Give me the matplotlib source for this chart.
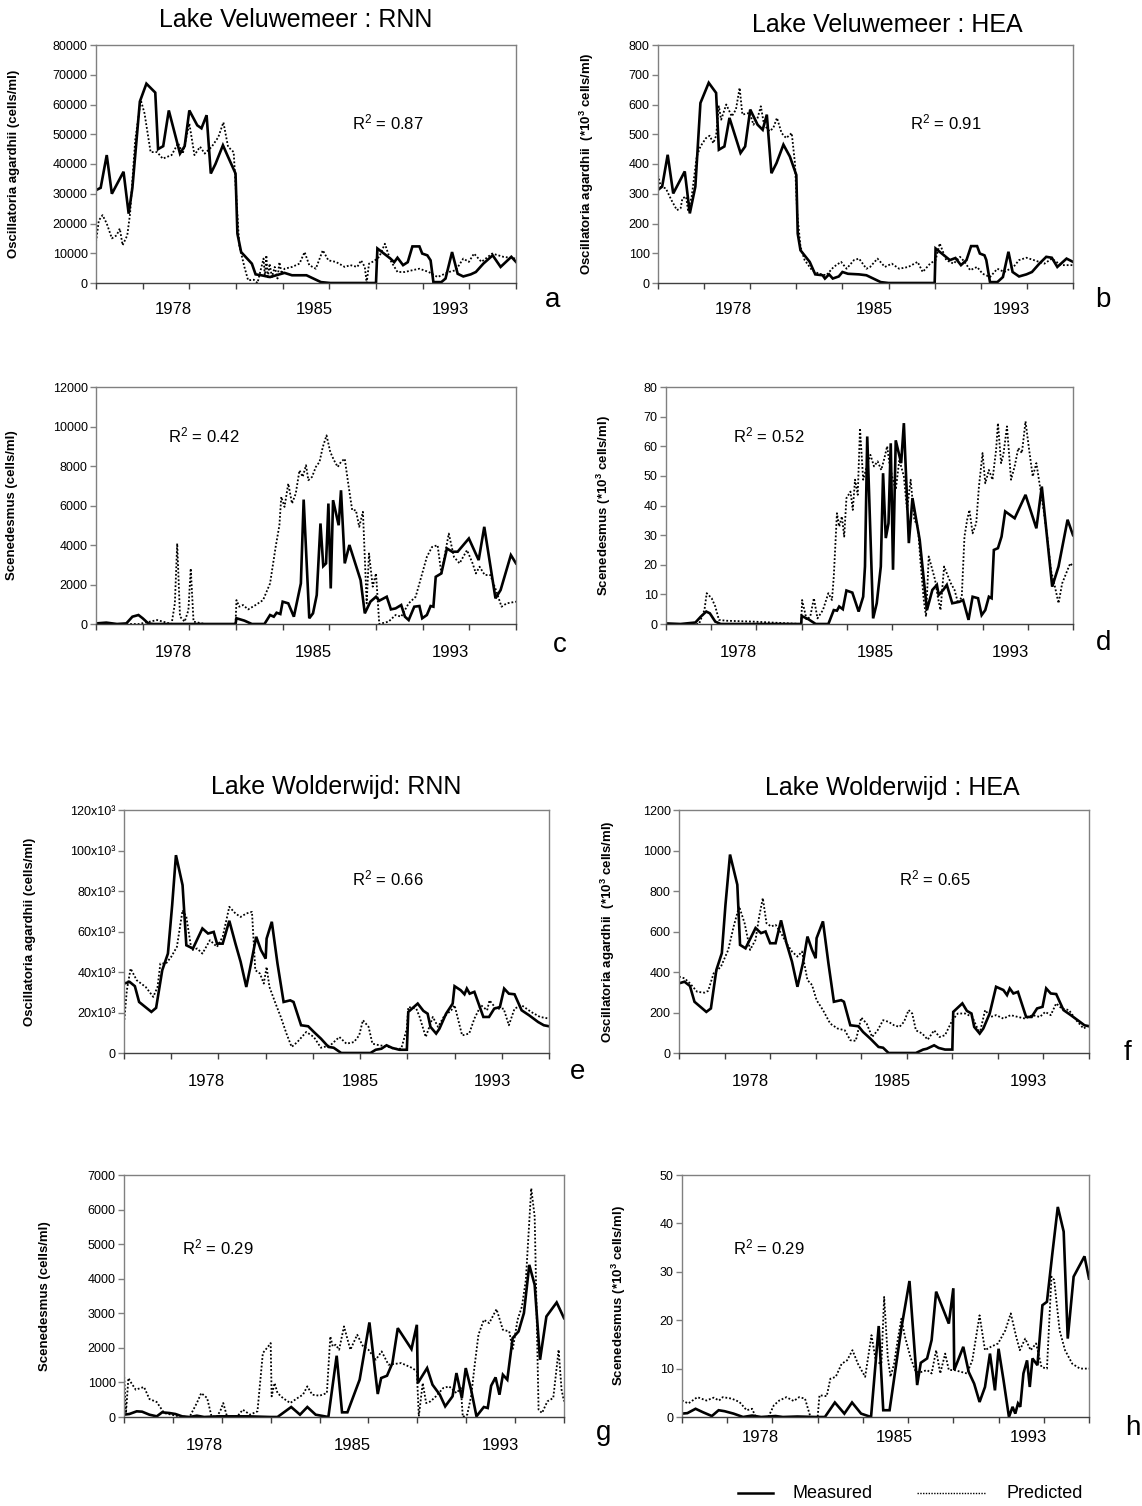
import matplotlib
matplotlib.use("Agg")
import matplotlib.pyplot as plt
from matplotlib.lines import Line2D

plt.rcParams["font.family"] = ["Liberation Sans", "DejaVu Sans"]
plt.rcParams["mathtext.fontset"] = "custom"
plt.rcParams["mathtext.rm"] = "Liberation Sans"
plt.rcParams["mathtext.it"] = "Liberation Sans:italic"
plt.rcParams["mathtext.bf"] = "Liberation Sans:bold"

W, H = 1142, 1506

# x is in axis category blocks (9 blocks, labelled 1978 / 1985 / 1993)
YEARS = ["1978", "1985", "1993"]

# ---- Lake Veluwemeer, Oscillatoria, RNN (cells/ml)
a_meas = [(0, 31200), (0.10, 32000), (0.23, 43000), (0.34, 30000), (0.59, 37400), (0.70, 23300),
          (0.78, 32000), (0.94, 61000), (1.08, 67000), (1.27, 64000), (1.33, 45000), (1.44, 46000),
          (1.56, 58000), (1.80, 43500), (1.90, 46000), (2.0, 58000), (2.17, 53000), (2.26, 52000),
          (2.37, 56400), (2.46, 36800), (2.56, 40000), (2.72, 46300), (2.83, 42400), (2.99, 36800),
          (3.03, 16600), (3.11, 10400), (3.34, 6500), (3.42, 2900), (3.54, 2600), (3.73, 2000),
          (4.04, 3400), (4.2, 2600), (4.51, 2600), (4.82, 300), (5.02, 0), (6.0, 0), (6.03, 11600),
          (6.31, 8200), (6.39, 7000), (6.46, 8500), (6.58, 6000), (6.68, 7000), (6.78, 12300),
          (6.93, 12300), (6.99, 9900), (7.10, 9300), (7.17, 7600), (7.23, 300), (7.40, 300),
          (7.49, 1500), (7.63, 10400), (7.75, 3100), (7.87, 2200), (8.03, 2900), (8.14, 3700),
          (8.3, 6500), (8.5, 9300), (8.67, 5400), (8.9, 8800), (9.0, 7100)]
a_pred = [(0, 13800), (0.06, 21000), (0.14, 22800), (0.23, 20000), (0.34, 15000), (0.44, 16000),
          (0.51, 18300), (0.57, 12700), (0.67, 16000), (0.73, 23300), (0.84, 48000), (0.96, 61500),
          (1.04, 57000), (1.17, 44000), (1.31, 44000), (1.43, 41800), (1.62, 43000), (1.76, 47000),
          (1.86, 43500), (2.0, 53600), (2.11, 43000), (2.23, 45800), (2.33, 43500), (2.48, 45800),
          (2.62, 49000), (2.73, 54000), (2.83, 45800), (2.95, 44000), (3.01, 28000), (3.07, 12700),
          (3.18, 5400), (3.26, 900), (3.38, 1100), (3.46, 0), (3.59, 8200), (3.62, 2000),
          (3.65, 9300), (3.68, 1500), (3.72, 6500), (3.77, 2000), (3.83, 5400), (3.89, 1500),
          (3.93, 7000), (3.98, 3100), (4.04, 4800), (4.2, 5400), (4.36, 6500), (4.47, 10400),
          (4.57, 6000), (4.71, 4800), (4.86, 11000), (4.98, 7600), (5.14, 7100), (5.33, 5400),
          (5.45, 6000), (5.6, 5400), (5.68, 7600), (5.76, 5400), (5.8, 0), (5.85, 6500),
          (5.96, 7400), (6.07, 8800), (6.19, 13200), (6.31, 7600), (6.46, 3700), (6.62, 3700),
          (6.78, 4300), (6.93, 4800), (7.13, 3700), (7.32, 2000), (7.56, 3700), (7.71, 4300),
          (7.87, 8200), (7.99, 7100), (8.1, 9900), (8.26, 7100), (8.49, 9900), (8.73, 8800),
          (9.0, 8200)]

# ---- Lake Veluwemeer, Oscillatoria, HEA (*10^3 cells/ml)
b_meas = [(0, 313), (0.09, 324), (0.21, 431), (0.33, 301), (0.58, 375), (0.69, 234), (0.81, 324),
          (0.92, 605), (1.1, 673), (1.26, 639), (1.32, 448), (1.44, 459), (1.55, 555), (1.79, 437),
          (1.89, 459), (2.0, 583), (2.16, 532), (2.27, 515), (2.36, 566), (2.46, 369), (2.57, 403),
          (2.72, 465), (2.86, 425), (3.0, 363), (3.03, 166), (3.09, 110), (3.29, 71), (3.41, 29),
          (3.57, 26), (3.62, 15), (3.71, 29), (3.79, 15), (3.92, 22), (4.0, 37), (4.12, 31),
          (4.36, 29), (4.52, 26), (4.83, 3), (5.0, 0), (6.0, 0), (6.02, 116), (6.33, 77), (6.45, 84),
          (6.57, 60), (6.69, 77), (6.79, 124), (6.92, 124), (6.98, 99), (7.08, 93), (7.12, 77),
          (7.2, 3), (7.36, 3), (7.48, 20), (7.6, 105), (7.69, 37), (7.83, 22), (7.99, 29),
          (8.11, 37), (8.27, 65), (8.42, 88), (8.54, 85), (8.66, 54), (8.86, 82), (9.0, 71)]
b_pred = [(0, 363), (0.06, 324), (0.17, 318), (0.29, 279), (0.41, 245), (0.49, 251), (0.53, 285),
          (0.61, 290), (0.65, 245), (0.73, 290), (0.84, 425), (0.92, 459), (1.04, 487), (1.12, 495),
          (1.2, 470), (1.26, 495), (1.32, 594), (1.37, 549), (1.48, 600), (1.6, 560), (1.69, 583),
          (1.77, 656), (1.83, 566), (1.99, 572), (2.07, 532), (2.16, 555), (2.23, 594), (2.3, 532),
          (2.42, 510), (2.5, 521), (2.58, 555), (2.68, 504), (2.78, 487), (2.9, 504), (2.97, 403),
          (3.02, 234), (3.09, 122), (3.18, 77), (3.34, 43), (3.49, 31), (3.65, 26), (3.81, 54),
          (3.97, 71), (4.09, 48), (4.25, 77), (4.36, 82), (4.52, 48), (4.6, 54), (4.76, 82),
          (4.92, 54), (5.07, 65), (5.23, 48), (5.43, 54), (5.63, 71), (5.74, 37), (5.9, 65),
          (6.02, 77), (6.11, 133), (6.25, 77), (6.41, 65), (6.55, 88), (6.65, 71), (6.77, 43),
          (6.92, 54), (7.04, 31), (7.2, 20), (7.36, 48), (7.51, 37), (7.71, 54), (7.83, 77),
          (7.99, 85), (8.15, 77), (8.38, 65), (8.54, 82), (8.74, 60), (9.0, 60)]

# ---- Lake Veluwemeer, Scenedesmus, RNN (cells/ml)
c_meas = [(0, 30), (0.22, 70), (0.45, 0), (0.65, 30), (0.78, 370), (0.91, 455), (1.0, 290),
          (1.12, 30), (1.23, 0), (2.99, 0), (3.01, 290), (3.18, 170), (3.34, 0), (3.61, 0),
          (3.73, 455), (3.81, 370), (3.87, 570), (3.95, 505), (4.0, 1130), (4.12, 1045), (4.24, 370),
          (4.39, 2055), (4.45, 6300), (4.57, 290), (4.65, 540), (4.73, 1465), (4.81, 5090),
          (4.87, 2930), (4.93, 3070), (4.98, 6100), (5.03, 1800), (5.08, 6270), (5.2, 5000),
          (5.25, 6770), (5.33, 3070), (5.43, 4000), (5.67, 2220), (5.76, 540), (5.88, 1130),
          (6.0, 1380), (6.07, 1180), (6.23, 1380), (6.32, 740), (6.42, 790), (6.54, 960), (6.62, 370),
          (6.7, 200), (6.82, 876), (6.93, 910), (6.99, 290), (7.09, 455), (7.17, 910), (7.23, 876),
          (7.28, 2390), (7.4, 2560), (7.52, 3825), (7.63, 3660), (7.75, 3660), (7.99, 4330),
          (8.2, 3235), (8.32, 4920), (8.56, 1300), (8.67, 1720), (8.89, 3490), (9.0, 3070)]
c_pred = [(0, 0), (0.92, 0), (1.31, 200), (1.62, 0), (1.69, 1045), (1.74, 4080), (1.8, 370),
          (1.9, 120), (1.98, 700), (2.03, 2810), (2.09, 120), (2.33, 0), (2.99, 0), (3.01, 1210),
          (3.07, 876), (3.15, 960), (3.26, 740), (3.42, 960), (3.58, 1210), (3.73, 2055), (3.85, 3910),
          (3.93, 5000), (3.97, 6440), (4.04, 5930), (4.12, 7110), (4.2, 6100), (4.28, 6600),
          (4.36, 7780), (4.43, 7450), (4.5, 8040), (4.55, 7280), (4.63, 7450), (4.71, 7950),
          (4.79, 8210), (4.86, 8960), (4.94, 9550), (5.02, 8710), (5.1, 8290), (5.18, 7950),
          (5.25, 8210), (5.33, 8370), (5.41, 7030), (5.49, 5760), (5.57, 5760), (5.64, 4920),
          (5.72, 5680), (5.8, 1045), (5.85, 3570), (5.93, 1890), (6.0, 2560), (6.07, 0), (6.27, 120),
          (6.42, 455), (6.54, 370), (6.7, 1045), (6.85, 1380), (6.97, 2390), (7.09, 3400),
          (7.2, 3900), (7.32, 3990), (7.4, 2560), (7.48, 3570), (7.56, 4580), (7.67, 3400),
          (7.79, 3070), (7.95, 3740), (8.07, 3070), (8.14, 2560), (8.22, 2900), (8.33, 2480),
          (8.45, 2480), (8.57, 1720), (8.69, 876), (8.8, 1045), (9.0, 1130)]

# ---- Lake Veluwemeer, Scenedesmus, HEA (*10^3 cells/ml)
d_meas = [(0, 0.2), (0.32, 0), (0.65, 0.5), (0.77, 2.5), (0.89, 4.2), (0.97, 3.6), (1.09, 0.8),
          (1.21, 0), (2.99, 0), (3.0, 2.7), (3.15, 1.6), (3.31, 0), (3.59, 0), (3.71, 4.7),
          (3.78, 4.5), (3.83, 5.9), (3.91, 5.0), (3.99, 11.3), (4.12, 10.6), (4.26, 4.2), (4.36, 9.2),
          (4.4, 19.4), (4.45, 63.3), (4.58, 1.9), (4.66, 7.0), (4.75, 19.4), (4.8, 50.9), (4.86, 29.0),
          (4.92, 34.0), (4.97, 61.0), (5.02, 18.3), (5.08, 62.0), (5.2, 54.3), (5.26, 67.8),
          (5.37, 27.3), (5.45, 42.5), (5.61, 28.4), (5.77, 4.7), (5.89, 11.5), (5.99, 13.2),
          (6.03, 9.8), (6.13, 11.5), (6.21, 13.2), (6.33, 7.0), (6.49, 7.5), (6.57, 8.1), (6.69, 1.4),
          (6.78, 9.2), (6.9, 8.7), (6.98, 3.0), (7.06, 4.7), (7.14, 9.2), (7.2, 8.7), (7.25, 25.0),
          (7.34, 25.6), (7.42, 29.5), (7.5, 38.0), (7.71, 35.7), (7.95, 43.6), (8.19, 32.3),
          (8.31, 46.4), (8.54, 12.6), (8.68, 19.4), (8.88, 35.2), (9.0, 30.0)]
d_pred = [(0, 0), (0.73, 0), (0.85, 4.7), (0.9, 10.4), (1.01, 8.7), (1.09, 5.9), (1.17, 1.4),
          (1.33, 1.1), (1.94, 0.8), (2.99, 0), (3.01, 8.1), (3.11, 1.4), (3.19, 2.5), (3.27, 8.7),
          (3.35, 1.9), (3.47, 4.7), (3.59, 10.4), (3.67, 8.1), (3.71, 16.0), (3.78, 37.4), (3.83, 32.9),
          (3.89, 36.3), (3.94, 29.5), (3.99, 42.5), (4.08, 44.7), (4.13, 38.5), (4.18, 48.7),
          (4.24, 43.6), (4.29, 66.1), (4.36, 48.7), (4.44, 53.2), (4.52, 57.1), (4.6, 53.2),
          (4.68, 54.9), (4.76, 52.0), (4.83, 56.0), (4.89, 60.0), (4.94, 54.3), (5.0, 49.8),
          (5.08, 45.3), (5.16, 55.4), (5.26, 49.8), (5.33, 38.5), (5.41, 48.7), (5.49, 35.2),
          (5.57, 32.9), (5.63, 20.5), (5.7, 8.1), (5.75, 2.5), (5.81, 22.8), (5.89, 18.3),
          (5.95, 14.9), (6.01, 9.2), (6.07, 4.7), (6.15, 19.4), (6.21, 17.1), (6.3, 13.7),
          (6.38, 11.5), (6.46, 7.0), (6.54, 9.2), (6.6, 29.5), (6.66, 35.2), (6.71, 38.5),
          (6.78, 30.6), (6.86, 34.0), (6.92, 46.4), (7.0, 57.7), (7.06, 47.5), (7.14, 52.0),
          (7.22, 48.7), (7.3, 58.8), (7.34, 67.8), (7.41, 54.3), (7.46, 57.1), (7.54, 66.7),
          (7.63, 48.7), (7.71, 53.2), (7.79, 59.4), (7.87, 57.7), (7.95, 68.4), (8.03, 58.8),
          (8.11, 49.8), (8.19, 54.3), (8.27, 46.4), (8.35, 38.5), (8.43, 29.5), (8.51, 18.3),
          (8.6, 12.6), (8.68, 7.0), (8.76, 13.7), (8.88, 18.3), (8.94, 20.5), (9.0, 19.4)]

# ---- Lake Wolderwijd, Oscillatoria, RNN (*10^3 cells/ml on the axis)
e_meas = [(0, 34.3), (0.12, 35.1), (0.23, 33.0), (0.32, 25.2), (0.58, 20.3), (0.68, 22.3),
          (0.81, 40.9), (0.93, 49.1), (1.02, 73.0), (1.1, 97.7), (1.24, 82.9), (1.32, 53.2),
          (1.46, 51.6), (1.66, 61.5), (1.78, 59.0), (1.9, 59.8), (1.97, 54.0), (2.09, 54.0),
          (2.23, 65.3), (2.36, 54.0), (2.47, 45.0), (2.59, 32.6), (2.69, 44.2), (2.8, 57.4),
          (2.9, 50.8), (3.0, 46.6), (3.02, 56.5), (3.13, 64.8), (3.25, 44.2), (3.38, 25.2),
          (3.52, 26.0), (3.59, 25.2), (3.75, 13.7), (3.9, 13.2), (4.02, 10.4), (4.17, 7.1),
          (4.33, 3.0), (4.44, 2.6), (4.6, 0), (5.22, 0), (5.33, 1.6), (5.45, 2.1), (5.56, 3.8),
          (5.68, 2.5), (5.83, 1.6), (5.99, 1.6), (6.02, 20.3), (6.22, 24.4), (6.34, 20.8),
          (6.43, 19.4), (6.49, 12.9), (6.61, 9.6), (6.68, 12.0), (6.82, 19.4), (6.96, 24.4),
          (7.0, 33.0), (7.13, 31.0), (7.21, 29.0), (7.26, 31.8), (7.32, 29.3), (7.42, 30.2),
          (7.61, 17.8), (7.73, 17.8), (7.84, 21.9), (7.96, 22.7), (8.05, 31.8), (8.15, 29.3),
          (8.27, 29.0), (8.42, 21.1), (8.58, 18.6), (8.77, 15.3), (8.89, 13.7), (9.0, 13.2)]
e_pred = [(0, 14.5), (0.06, 31.0), (0.14, 41.7), (0.27, 35.9), (0.46, 32.6), (0.62, 27.7),
          (0.71, 32.6), (0.77, 44.2), (0.89, 44.2), (1.0, 47.5), (1.12, 52.4), (1.24, 70.5),
          (1.32, 67.2), (1.43, 50.8), (1.55, 51.6), (1.66, 49.1), (1.82, 55.7), (1.97, 52.4),
          (2.09, 57.4), (2.23, 72.2), (2.36, 68.9), (2.47, 67.2), (2.59, 68.9), (2.71, 69.7),
          (2.78, 40.9), (2.88, 39.2), (2.96, 34.3), (3.02, 42.5), (3.08, 32.6), (3.21, 24.4),
          (3.32, 17.8), (3.44, 9.6), (3.55, 3.0), (3.67, 5.4), (3.86, 10.4), (4.02, 7.9),
          (4.17, 2.6), (4.37, 3.8), (4.56, 7.9), (4.71, 4.6), (4.87, 5.4), (4.98, 8.7), (5.06, 16.2),
          (5.18, 12.9), (5.26, 4.6), (5.41, 3.8), (5.56, 3.3), (5.72, 2.1), (5.87, 2.1), (5.99, 12.0),
          (6.02, 22.7), (6.19, 21.9), (6.26, 17.8), (6.39, 7.9), (6.54, 17.8), (6.65, 12.9),
          (6.77, 17.8), (6.93, 21.1), (7.0, 23.6), (7.16, 8.7), (7.31, 9.6), (7.42, 17.0),
          (7.56, 23.6), (7.69, 21.1), (7.74, 26.0), (7.88, 21.9), (8.04, 21.9), (8.15, 13.7),
          (8.27, 21.9), (8.42, 23.6), (8.62, 20.3), (8.81, 17.8), (9.0, 17.0)]

# ---- Lake Wolderwijd, Oscillatoria, HEA (*10^3 cells/ml)
f_meas = [(0, 344), (0.12, 352), (0.24, 331), (0.34, 253), (0.6, 203), (0.7, 220), (0.82, 410),
          (0.94, 493), (1.02, 732), (1.12, 980), (1.28, 831), (1.34, 534), (1.46, 517), (1.68, 617),
          (1.8, 592), (1.9, 600), (2.0, 542), (2.12, 542), (2.24, 655), (2.36, 542), (2.48, 451),
          (2.6, 327), (2.72, 443), (2.82, 575), (2.92, 509), (3.0, 468), (3.02, 567), (3.16, 650),
          (3.28, 443), (3.4, 253), (3.56, 261), (3.62, 253), (3.76, 137), (3.94, 132), (4.04, 104),
          (4.2, 71), (4.38, 30), (4.48, 26), (4.6, 0), (5.2, 0), (5.36, 17), (5.44, 21), (5.6, 38),
          (5.7, 25), (5.84, 17), (6.0, 17), (6.02, 203), (6.22, 245), (6.32, 208), (6.42, 195),
          (6.48, 129), (6.6, 96), (6.68, 121), (6.82, 195), (6.96, 327), (7.12, 311), (7.2, 286),
          (7.26, 319), (7.34, 294), (7.44, 302), (7.62, 178), (7.74, 178), (7.86, 220), (7.98, 228),
          (8.06, 319), (8.16, 294), (8.28, 291), (8.44, 212), (8.6, 187), (8.8, 154), (8.9, 137),
          (9.0, 132)]
f_pred = [(0, 377), (0.12, 369), (0.24, 344), (0.4, 302), (0.56, 298), (0.64, 307), (0.76, 393),
          (0.92, 426), (1.08, 509), (1.2, 625), (1.32, 724), (1.44, 641), (1.56, 509), (1.68, 559),
          (1.76, 674), (1.84, 765), (1.92, 641), (2.02, 625), (2.12, 633), (2.24, 592), (2.36, 542),
          (2.48, 501), (2.6, 476), (2.7, 501), (2.82, 360), (2.92, 336), (3.02, 261), (3.16, 212),
          (3.32, 145), (3.48, 121), (3.64, 112), (3.76, 63), (3.88, 60), (4.0, 175), (4.12, 145),
          (4.24, 79), (4.36, 112), (4.48, 162), (4.6, 154), (4.72, 137), (4.84, 129), (4.94, 154),
          (5.04, 212), (5.12, 195), (5.2, 112), (5.34, 96), (5.46, 66), (5.6, 112), (5.72, 79),
          (5.84, 88), (6.0, 162), (6.12, 195), (6.28, 195), (6.44, 178), (6.6, 96), (6.72, 212),
          (6.84, 178), (6.96, 187), (7.12, 170), (7.28, 187), (7.44, 178), (7.6, 170), (7.76, 187),
          (7.92, 178), (8.04, 203), (8.16, 187), (8.28, 245), (8.4, 220), (8.56, 212), (8.72, 162),
          (8.88, 121), (9.0, 137)]

# ---- Lake Wolderwijd, Scenedesmus, RNN (cells/ml)
g_meas = [(0, 67), (0.11, 87), (0.26, 164), (0.37, 154), (0.52, 67), (0.67, 19), (0.78, 135),
          (0.93, 115), (1.05, 87), (1.19, 19), (1.34, 0), (1.49, 38), (1.64, 0), (1.94, 19),
          (2.24, 19), (2.54, 19), (2.99, 0), (3.14, 0), (3.42, 289), (3.6, 67), (3.75, 289),
          (3.92, 67), (4.18, 0), (4.35, 1772), (4.46, 135), (4.57, 135), (4.82, 1080), (5.02, 2735),
          (5.19, 665), (5.26, 1127), (5.38, 1194), (5.49, 1560), (5.6, 2570), (5.88, 1965),
          (5.99, 2667), (6.01, 982), (6.2, 1415), (6.31, 934), (6.46, 645), (6.57, 308), (6.72, 597),
          (6.8, 1271), (6.91, 549), (6.99, 1415), (7.1, 790), (7.21, 19), (7.29, 164), (7.36, 289),
          (7.44, 260), (7.51, 905), (7.6, 1146), (7.68, 645), (7.75, 1223), (7.84, 1080),
          (7.95, 2282), (8.07, 2475), (8.18, 3005), (8.29, 4400), (8.4, 3823), (8.51, 1656),
          (8.64, 2908), (8.85, 3313), (9.0, 2860)]
g_pred = [(0, 1271), (0.04, 115), (0.09, 1127), (0.15, 982), (0.24, 790), (0.34, 838), (0.41, 867),
          (0.52, 520), (0.67, 433), (0.82, 115), (0.97, 67), (1.12, 19), (1.34, 0), (1.49, 404),
          (1.58, 693), (1.7, 549), (1.79, 19), (1.9, 0), (1.98, 212), (2.03, 404), (2.11, 0),
          (2.32, 19), (2.43, 212), (2.58, 67), (2.73, 164), (2.84, 1849), (2.95, 2042), (3.0, 2138),
          (3.02, 597), (3.08, 982), (3.14, 693), (3.25, 549), (3.4, 404), (3.55, 549), (3.66, 645),
          (3.75, 886), (3.85, 645), (4.0, 616), (4.15, 693), (4.22, 2330), (4.27, 2042), (4.33, 2090),
          (4.4, 1945), (4.5, 2620), (4.63, 1945), (4.77, 2379), (4.89, 2042), (5.0, 1945),
          (5.15, 1656), (5.27, 1897), (5.41, 1512), (5.67, 1560), (5.9, 1415), (5.99, 1319),
          (6.03, 19), (6.11, 982), (6.18, 404), (6.27, 452), (6.38, 597), (6.53, 838), (6.65, 886),
          (6.8, 693), (6.89, 838), (6.93, 0), (7.02, 67), (7.1, 597), (7.17, 1464), (7.25, 2379),
          (7.36, 2812), (7.47, 2716), (7.62, 3120), (7.75, 2523), (7.88, 2475), (7.95, 1945),
          (8.05, 2812), (8.14, 3197), (8.22, 3968), (8.33, 6616), (8.4, 5797), (8.48, 212),
          (8.55, 115), (8.66, 452), (8.78, 549), (8.83, 1175), (8.89, 1945), (8.95, 790),
          (9.0, 452)]

# ---- Lake Wolderwijd, Scenedesmus, HEA (*10^3 cells/ml)
h_meas = [(0, 0.7), (0.12, 0.8), (0.3, 1.7), (0.46, 1.0), (0.66, 0.2), (0.81, 1.4), (0.94, 1.2),
          (1.14, 0.7), (1.35, 0), (1.55, 0.3), (1.75, 0), (2.07, 0.2), (2.23, 0), (2.55, 0.1),
          (2.96, 0), (3.16, 0), (3.38, 3.0), (3.59, 0.7), (3.76, 3.0), (3.96, 0.7), (4.18, 0),
          (4.35, 18.8), (4.45, 1.4), (4.59, 1.4), (4.85, 18.3), (5.03, 28.1), (5.2, 6.6), (5.28, 11.2),
          (5.42, 12.1), (5.52, 15.9), (5.62, 25.9), (5.9, 19.3), (6.0, 26.6), (6.02, 9.7),
          (6.22, 14.5), (6.34, 9.3), (6.46, 6.9), (6.58, 3.1), (6.7, 6.2), (6.81, 13.1), (6.92, 5.5),
          (7.0, 14.1), (7.11, 7.6), (7.23, 0), (7.31, 2.1), (7.37, 0.7), (7.43, 2.8), (7.48, 2.1),
          (7.55, 9.0), (7.63, 11.7), (7.69, 6.2), (7.75, 12.1), (7.86, 10.7), (7.97, 23.1),
          (8.07, 23.8), (8.19, 33.8), (8.31, 43.4), (8.44, 38.3), (8.53, 16.2), (8.66, 29.0),
          (8.9, 33.2), (9.0, 28.6)]
h_pred = [(0, 3.4), (0.14, 2.8), (0.34, 4.1), (0.54, 3.4), (0.7, 4.0), (0.82, 3.4), (0.9, 4.1),
          (1.1, 3.8), (1.27, 3.1), (1.43, 1.4), (1.55, 1.7), (1.63, 0), (1.91, 0), (2.03, 2.4),
          (2.15, 3.4), (2.31, 4.1), (2.47, 3.3), (2.59, 4.1), (2.72, 3.8), (2.84, 0), (3.0, 0),
          (3.04, 4.5), (3.2, 4.3), (3.28, 7.9), (3.4, 8.3), (3.53, 11.0), (3.65, 11.7), (3.77, 13.8),
          (3.89, 11.0), (4.05, 8.3), (4.19, 16.9), (4.29, 11.4), (4.41, 11.0), (4.47, 24.8),
          (4.55, 12.4), (4.61, 8.3), (4.69, 11.0), (4.77, 15.9), (4.85, 20.3), (4.93, 16.6),
          (5.05, 12.4), (5.17, 9.3), (5.29, 9.3), (5.42, 9.7), (5.52, 9.0), (5.62, 13.8), (5.71, 9.0),
          (5.82, 13.1), (5.9, 9.7), (6.02, 9.7), (6.18, 9.3), (6.3, 9.0), (6.42, 11.7), (6.58, 21.0),
          (6.7, 13.8), (6.83, 14.5), (6.99, 15.2), (7.15, 17.9), (7.27, 21.4), (7.39, 16.6),
          (7.47, 13.8), (7.59, 16.2), (7.71, 13.8), (7.83, 15.2), (7.95, 10.3), (8.07, 10.0),
          (8.17, 29.0), (8.23, 28.3), (8.35, 17.9), (8.47, 13.8), (8.63, 11.0), (8.8, 10.0),
          (9.0, 10.0)]

OSC_CELLS = "Oscillatoria agardhii (cells/ml)"
OSC_K = r"Oscillatoria agardhii  (*10$^\mathbf{3}$ cells/ml)"
SCE_CELLS = "Scenedesmus (cells/ml)"
SCE_K = r"Scenedesmus (*10$^\mathbf{3}$ cells/ml)"

# box in pixels (left, top, right, bottom), ylim top, y step, ylabel, ylabel x (px),
# R2, R2 position (px), letter, letter position (px), year-label positions, year-label drop (px)
panels = [
    dict(meas=a_meas, pred=a_pred, box=(96, 45, 516, 283), ymax=80000, step=10000,
         ylabel=OSC_CELLS, ylx=20, r2="0.87", r2xy=(352, 122), letter="a", lxy=(553, 300),
         yrs=(1.65, 4.67, 7.6), drop=27),
    dict(meas=b_meas, pred=b_pred, box=(658, 45, 1073, 283), ymax=800, step=100,
         ylabel=OSC_K, ylx=596, r2="0.91", r2xy=(910, 122), letter="b", lxy=(1103, 300),
         yrs=(1.63, 4.7, 7.66), drop=27),
    dict(meas=c_meas, pred=c_pred, box=(96, 387, 516, 624), ymax=12000, step=2000,
         ylabel=SCE_CELLS, ylx=18, r2="0.42", r2xy=(168, 435), letter="c", lxy=(560, 645),
         yrs=(1.66, 4.66, 7.6), drop=28),
    dict(meas=d_meas, pred=d_pred, box=(666, 387, 1073, 624), ymax=80, step=10,
         ylabel=SCE_K, ylx=613, r2="0.52", r2xy=(733, 435), letter="d", lxy=(1104, 643),
         yrs=(1.6, 4.62, 7.62), drop=28),
    dict(meas=e_meas, pred=e_pred, box=(124, 810, 549, 1053), ymax=120, step=20,
         ylabel=OSC_CELLS, ylx=36, r2="0.66", r2xy=(352, 878), letter="e", lxy=(578, 1072),
         yrs=(1.75, 5.0, 7.8), drop=29, kilo=True),
    dict(meas=f_meas, pred=f_pred, box=(679, 810, 1089, 1053), ymax=1200, step=200,
         ylabel=OSC_K, ylx=617, r2="0.65", r2xy=(899, 878), letter="f", lxy=(1128, 1053),
         yrs=(1.56, 4.68, 7.68), drop=29),
    dict(meas=g_meas, pred=g_pred, box=(124, 1175, 564, 1417), ymax=7000, step=1000,
         ylabel=SCE_CELLS, ylx=51, r2="0.29", r2xy=(182, 1247), letter="g", lxy=(604, 1433),
         yrs=(1.65, 4.67, 7.69), drop=28),
    dict(meas=h_meas, pred=h_pred, box=(682, 1175, 1089, 1417), ymax=50, step=10,
         ylabel=SCE_K, ylx=628, r2="0.29", r2xy=(733, 1247), letter="h", lxy=(1133, 1428),
         yrs=(1.74, 4.69, 7.67), drop=20),
]

titles = [("Lake Veluwemeer : RNN", 296, 20), ("Lake Veluwemeer : HEA", 887, 25),
          ("Lake Wolderwijd: RNN", 336, 787), ("Lake Wolderwijd : HEA", 892, 788)]

FRAME = "#808080"
AXIS = "#404040"


def fx(px):
    return px / W


def fy(py):
    return 1 - py / H


fig = plt.figure(figsize=(W / 100, H / 100), dpi=100)

for p in panels:
    l, t, r, b = p["box"]
    ax = fig.add_axes([fx(l), fy(b), (r - l) / W, (b - t) / H])
    mt, mv = zip(*p["meas"])
    pt, pv = zip(*p["pred"])
    ax.plot(pt, pv, color="black", lw=1.3, linestyle=(0, (1, 1.1)), solid_capstyle="butt")
    ax.plot(mt, mv, color="black", lw=1.9, solid_joinstyle="miter")
    ax.set_xlim(0, 9)
    ax.set_ylim(0, p["ymax"])
    ax.set_xticks(range(10))
    ax.set_xticklabels([])
    yt = list(range(0, p["ymax"] + 1, p["step"]))
    ax.set_yticks(yt)
    if p.get("kilo"):
        ax.set_yticklabels(["0"] + [f"{v}x10\u00b3" for v in yt[1:]])
    else:
        ax.set_yticklabels([str(v) for v in yt])
    ax.tick_params(axis="both", direction="out", length=4, width=1.0, color=FRAME,
                   labelsize=9, pad=2)
    ax.tick_params(axis="x", color=AXIS)
    for side in ("top", "right", "left"):
        ax.spines[side].set_color(FRAME)
        ax.spines[side].set_linewidth(1.0)
    ax.spines["bottom"].set_color(AXIS)
    ax.spines["bottom"].set_linewidth(1.0)
    for pos, yr in zip(p["yrs"], YEARS):
        ax.text(pos, -p["drop"] / (b - t), yr, transform=ax.get_xaxis_transform(),
                ha="center", va="center", fontsize=12)
    ax.set_ylabel(p["ylabel"], fontsize=9.5, fontweight="bold")
    ax.yaxis.set_label_coords((p["ylx"] - l) / (r - l), 0.5)
    fig.text(fx(p["r2xy"][0]), fy(p["r2xy"][1]), "R$^2$ = " + p["r2"], fontsize=12,
             ha="left", va="center")
    fig.text(fx(p["lxy"][0]), fy(p["lxy"][1]), p["letter"], fontsize=20,
             ha="center", va="center")

for txt, x, y in titles:
    fig.text(fx(x), fy(y), txt, fontsize=18, ha="center", va="center")

# legend at the bottom right
fig.add_artist(Line2D([fx(738), fx(773)], [fy(1493), fy(1493)], color="black", lw=1.8))
fig.text(fx(793), fy(1493), "Measured", fontsize=13, ha="left", va="center")
fig.add_artist(Line2D([fx(917), fx(985)], [fy(1493), fy(1493)], color="black", lw=1.0,
                      linestyle=(0, (1, 1))))
fig.text(fx(1006), fy(1493), "Predicted", fontsize=13, ha="left", va="center")

fig.savefig("out.png", dpi=100)
